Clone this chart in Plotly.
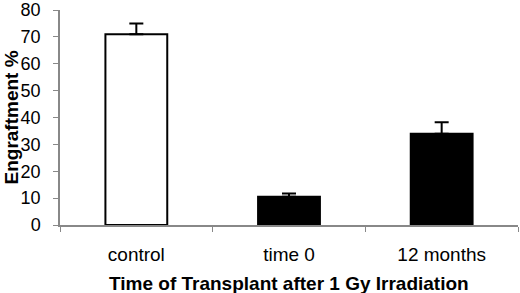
import plotly.graph_objects as go

categories = ["control", "time 0", "12 months"]
engraftment = [71.0, 10.5, 34.0]
error_upper = [4.0, 1.2, 4.2]
bar_colors = ["white", "black", "black"]
y_ticks = [0, 10, 20, 30, 40, 50, 60, 70, 80]
x_title = "Time of Transplant after 1 Gy Irradiation"
y_title = "Engraftment %"

fig = go.Figure()
fig.add_trace(go.Bar(
    x=categories,
    y=engraftment,
    marker=dict(color=bar_colors, line=dict(color="black", width=2)),
    error_y=dict(type="data", array=error_upper, arrayminus=[0] * len(error_upper),
                 symmetric=False, color="black", thickness=2, width=7),
    width=0.405,
))

font_family = "Liberation Sans, Arial, sans-serif"
fig.update_layout(
    width=520, height=293,
    margin=dict(l=60, r=2, t=10, b=68),
    paper_bgcolor="white", plot_bgcolor="white",
    showlegend=False,
    font=dict(family=font_family, color="black"),
    xaxis=dict(
        range=[-0.5, 2.5], automargin=False,
        showline=True, linecolor="#888888", linewidth=1.5,
        ticks="outside", tickson="boundaries", ticklen=5, tickcolor="#888888",
        tickfont=dict(size=19, family=font_family, color="black"),
        ticklabelstandoff=11,
        showgrid=False, zeroline=False,
    ),
    yaxis=dict(
        range=[0, 80], automargin=False,
        tickvals=y_ticks,
        showline=True, linecolor="#888888", linewidth=1.5,
        ticks="outside", ticklen=5, tickcolor="#888888",
        tickfont=dict(size=18, family=font_family, color="black"),
        ticklabelstandoff=9,
        showgrid=False, zeroline=False,
    ),
    annotations=[
        dict(text="<b>" + x_title + "</b>", xref="paper", yref="paper",
             x=0.5, y=0, xanchor="center", yanchor="middle", yshift=-58,
             showarrow=False, font=dict(size=19, family=font_family, color="black")),
        dict(text="<b>" + y_title + "</b>", xref="paper", yref="paper",
             x=0, y=0.5, xanchor="center", yanchor="middle", xshift=-49, textangle=-90,
             borderpad=0,
             showarrow=False, font=dict(size=19, family=font_family, color="black")),
    ],
)

fig.write_html(
    "out.html",
    config={"displayModeBar": False},
    post_script="document.body.style.margin='0';document.body.style.padding='0';",
)
